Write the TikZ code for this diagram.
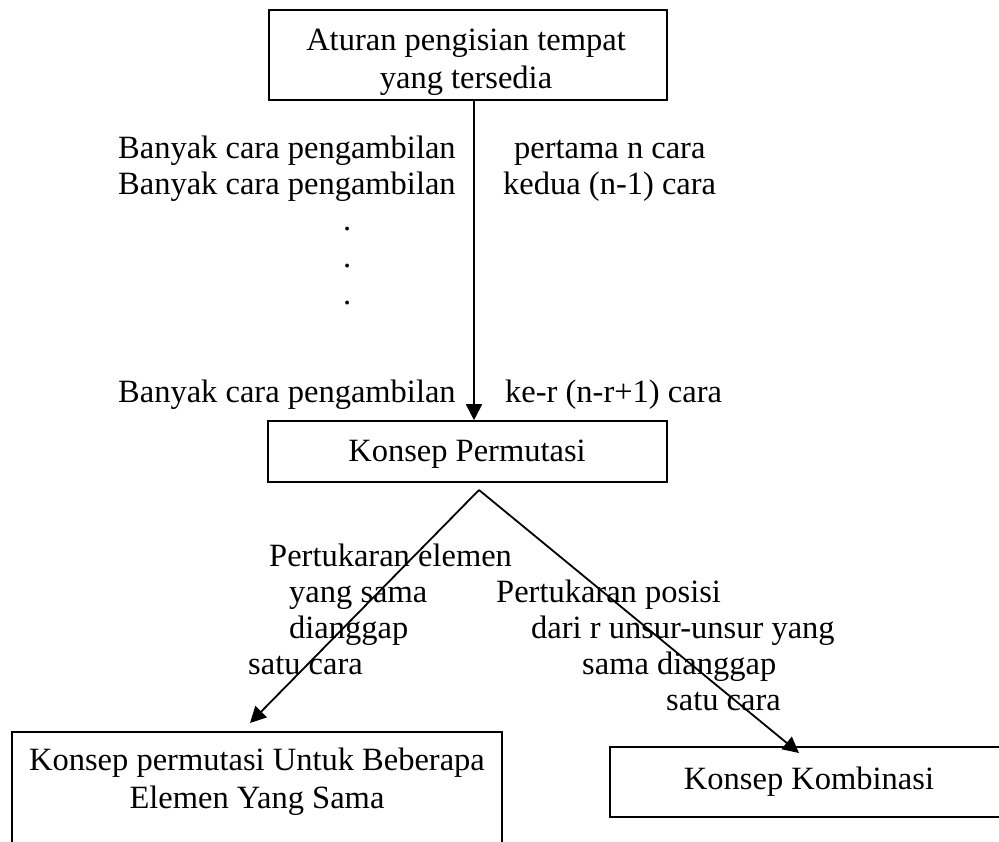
\documentclass[tikz,border=0pt]{standalone}
\usepackage{fontspec}
\setmainfont{Liberation Serif}
\usetikzlibrary{arrows.meta}
\begin{document}
\begin{tikzpicture}[x=1pt,y=-1pt,
  every node/.style={font=\fontsize{32.5}{38}\selectfont, inner sep=0pt},
  box/.style={draw, line width=1.6pt, minimum width=#1},
  txt/.style={anchor=base west},
  link/.style={line width=1.8pt, -{Triangle[length=16pt,width=16pt]}}]
  \useasboundingbox (0,0) rectangle (999,841);
  \clip (0,0) rectangle (999,841);

  % boxes
  \node[box=398pt, minimum height=90pt] (rule) at (468,55) {};
  \node[align=center, anchor=base] (ruletxt) at (466,88)
    {Aturan pengisian tempat\\yang tersedia};
  \node[box=399pt, minimum height=61pt] (perm) at (467.5,451.5) {};
  \node[anchor=base] (permtxt) at (467,461) {Konsep Permutasi};
  \node[box=490pt, minimum height=150pt] (same) at (257,807) {};
  \node[align=center, anchor=base] (sametxt) at (257,808)
    {Konsep permutasi Untuk Beberapa\\Elemen Yang Sama};
  \node[box=398pt, minimum height=70pt] (komb) at (809,782) {Konsep Kombinasi};

  % counting rule
  \node[txt] (b1) at (118,158) {Banyak cara pengambilan};
  \node[txt] (b2) at (118,194) {Banyak cara pengambilan};
  \node[txt] (d1) at (343,230) {.};
  \node[txt] (d2) at (343,267) {.};
  \node[txt] (d3) at (343,304) {.};
  \node[txt] (b3) at (118,402) {Banyak cara pengambilan};
  \node[txt] (r1) at (514,158) {pertama n cara};
  \node[txt] (r2) at (503,194) {kedua (n-1) cara};
  \node[txt] (r3) at (505,402) {ke-r (n-r+1) cara};

  % branch labels
  \node[txt] (l1) at (269,566) {Pertukaran elemen};
  \node[txt] (l2) at (289,602) {yang sama};
  \node[txt] (l3) at (289,638) {dianggap};
  \node[txt] (l4) at (248,674) {satu cara};
  \node[txt] (m1) at (496,602) {Pertukaran posisi};
  \node[txt] (m2) at (531,638) {dari r unsur-unsur yang};
  \node[txt] (m3) at (582,674) {sama dianggap};
  \node[txt] (m4) at (666,710) {satu cara};

  % connectors
  \coordinate (down) at (474,0);
  \coordinate (apex) at (479,490);
  \coordinate (lefttip) at (250,723);
  \coordinate (righttip) at (799,753);
  \draw[link] (rule.south -| down) -- (perm.north -| down);
  \draw[link] (apex) -- (lefttip);
  \draw[link] (apex) -- (righttip);
\end{tikzpicture}
\end{document}
